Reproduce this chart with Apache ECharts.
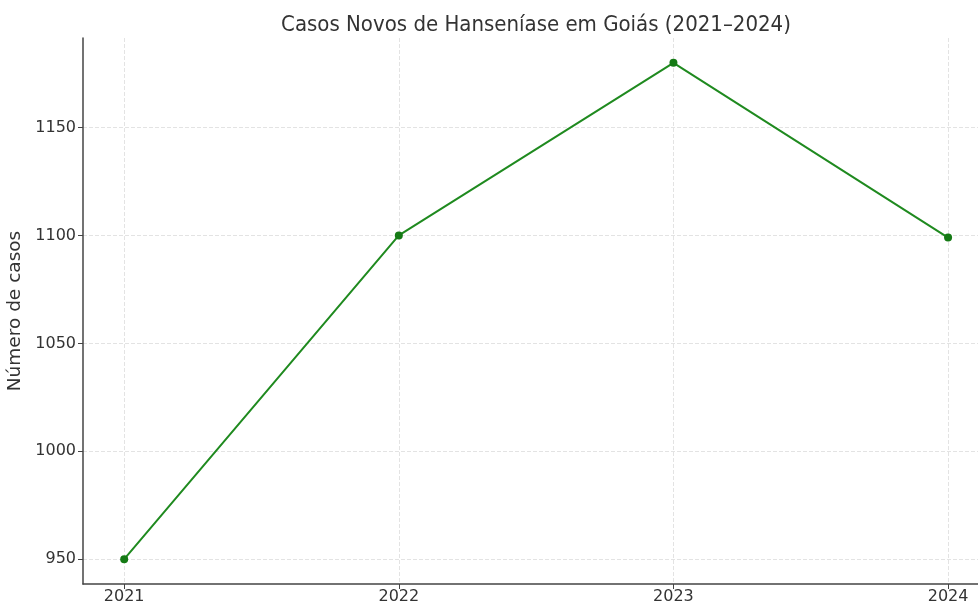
<!DOCTYPE html>
<html>
<head>
<meta charset="utf-8">
<script src="https://cdn.jsdelivr.net/npm/echarts@6/dist/echarts.min.js"></script>
<style>
  html, body { margin: 0; padding: 0; background: #fff; }
  #chart { width: 978px; height: 606px; }
</style>
</head>
<body>
<div id="chart"></div>
<script>
const years = [2021, 2022, 2023, 2024];
const casos = [950, 1100, 1180, 1099];
const yTicks = [950, 1000, 1050, 1100, 1150];

const font = "DejaVu Sans";
const chart = echarts.init(document.getElementById("chart"));

chart.setOption({
  animation: false,
  title: {
    text: "Casos Novos de Hanseníase em Goiás (2021–2024)",
    left: 531,
    textAlign: "center",
    top: 9,
    textStyle: { fontFamily: "DejaVu Sans Condensed, DejaVu Sans", fontSize: 22, fontWeight: "normal", color: "#333" }
  },
  grid: { left: 83, right: 0, top: 38, bottom: 22, outerBoundsMode: "none" },
  xAxis: {
    type: "value",
    min: 2020.85,
    max: 2024.109,
    axisLine: { lineStyle: { color: "#444", width: 1.5 } },
    axisTick: { length: 5, lineStyle: { color: "#444" }, customValues: years },
    axisLabel: {
      customValues: years,
      fontFamily: font, fontSize: 16, color: "#333", margin: 5,
      formatter: v => String(v)
    },
    splitLine: { show: true, lineStyle: { color: "#e3e3e3", type: "dashed", width: 1 } }
  },
  yAxis: {
    type: "value",
    min: 938.5,
    max: 1191.5,
    name: "Número de casos",
    nameLocation: "middle",
    nameGap: 56,
    nameTextStyle: { fontFamily: font, fontSize: 18.5, color: "#333" },
    axisLine: { show: true, lineStyle: { color: "#444", width: 1.5 } },
    axisTick: { show: true, length: 5, lineStyle: { color: "#444" }, customValues: yTicks },
    axisLabel: {
      customValues: yTicks,
      fontFamily: font, fontSize: 16, color: "#333", margin: 7,
      formatter: v => String(v)
    },
    splitLine: { show: true, lineStyle: { color: "#e3e3e3", type: "dashed", width: 1 } }
  },
  series: [
    {
      type: "line",
      data: years.map((y, i) => [y, casos[i]]),
      symbol: "circle",
      symbolSize: 8,
      lineStyle: { color: "#1f8a1f", width: 2 },
      itemStyle: { color: "#157a15" }
    }
  ]
});
</script>
</body>
</html>
